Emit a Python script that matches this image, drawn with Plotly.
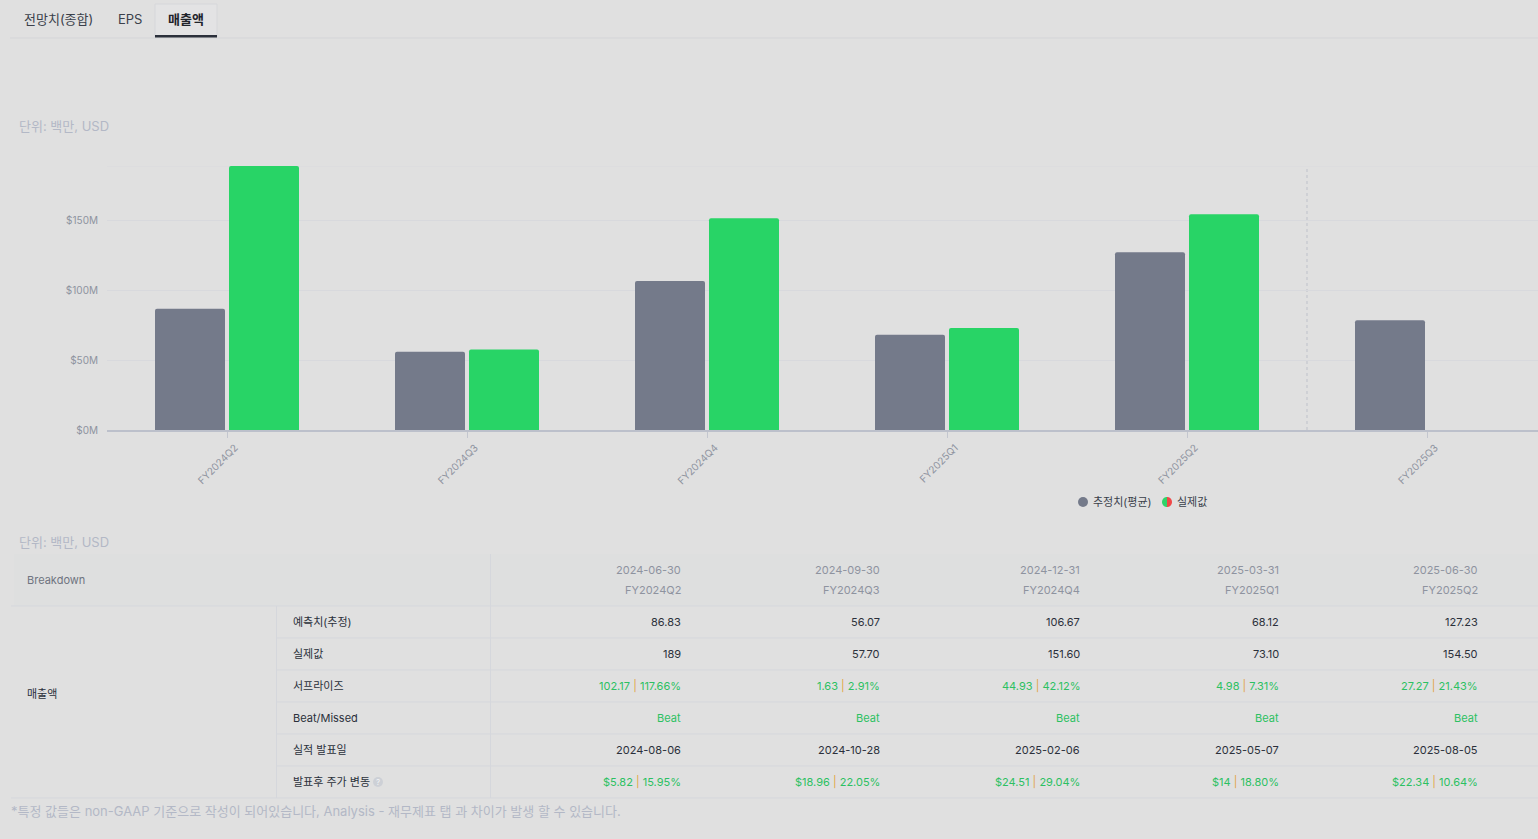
import numpy as np
import plotly.graph_objects as go

# ---------------- data ----------------
categories = ["FY2024Q2", "FY2024Q3", "FY2024Q4", "FY2025Q1", "FY2025Q2", "FY2025Q3"]
estimates = [86.83, 56.07, 106.67, 68.12, 127.23, 78.6]
actuals = [189, 57.70, 151.60, 73.10, 154.50, None]
y_ticks = [0, 50, 100, 150]
y_tick_labels = ["$0M", "$50M", "$100M", "$150M"]

tabs = ["전망치(종합)", "EPS", "매출액"]
legend_labels = ["추정치(평균)", "실제값"]

tbl_dates = ["2024-06-30", "2024-09-30", "2024-12-31", "2025-03-31", "2025-06-30"]
tbl_periods = ["FY2024Q2", "FY2024Q3", "FY2024Q4", "FY2025Q1", "FY2025Q2"]
row_labels = ["예측치(추정)", "실제값", "서프라이즈", "Beat/Missed", "실적 발표일", "발표후 주가 변동"]
est_text = ["86.83", "56.07", "106.67", "68.12", "127.23"]
act_text = ["189", "57.70", "151.60", "73.10", "154.50"]
surprise_abs = ["102.17", "1.63", "44.93", "4.98", "27.27"]
surprise_pct = ["117.66%", "2.91%", "42.12%", "7.31%", "21.43%"]
beat_missed = ["Beat", "Beat", "Beat", "Beat", "Beat"]
report_dates = ["2024-08-06", "2024-10-28", "2025-02-06", "2025-05-07", "2025-08-05"]
price_abs = ["$5.82", "$18.96", "$24.51", "$14", "$22.34"]
price_pct = ["15.95%", "22.05%", "29.04%", "18.80%", "10.64%"]

unit_label = "단위: 백만, USD"
breakdown_label = "Breakdown"
group_label = "매출액"
footnote = "*특정 값들은 non-GAAP 기준으로 작성이 되어있습니다, Analysis - 재무제표 탭 과 차이가 발생 할 수 있습니다."

# ---------------- layout constants ----------------
W, H = 1538, 839
L, T, PB = 107, 166, 430  # plot left, top, bottom in px
PW, PH = W - L, PB - T
BG = "#e0e0e0"
FONT = "Inter, 'Noto Sans CJK KR', sans-serif"
GRAY_BAR = "#747a8a"
GREEN_BAR = "#28d466"
TXT_DARK = "#2b303b"
TXT_GRAY = "#8e939f"
TXT_LIGHT = "#b3b8c6"
GREEN_TXT = "#2cc062"
SEP_ORANGE = "#e0a545"
LINE_C = "#d5d7dc"


def px(x):
    return (x - L) / PW


def py(y):
    return (PB - y) / PH


fig = go.Figure()

bw = 70 / 240
fig.add_trace(go.Bar(
    x=categories, y=estimates, name=legend_labels[0],
    marker=dict(color=GRAY_BAR, line=dict(width=0)),
    width=bw, offset=-72 / 240, hoverinfo="x+y",
))
fig.add_trace(go.Bar(
    x=categories, y=actuals, name=legend_labels[1],
    marker=dict(color=GREEN_BAR, line=dict(width=0)),
    width=bw, offset=2 / 240, hoverinfo="x+y",
))

shapes = []
annotations = []

# top boundary line of plot
shapes.append(dict(type="line", xref="paper", yref="y", x0=0, x1=1, y0=189, y1=189,
                   line=dict(color="#d9d9dd", width=1), layer="below"))
# forecast divider
shapes.append(dict(type="line", xref="x", yref="y", x0=4.5, x1=4.5, y0=0, y1=189,
                   line=dict(color="#c3c6ce", width=1.2, dash="dot"), layer="below"))

# ---------------- tabs ----------------
shapes.append(dict(type="line", xref="paper", yref="paper", x0=px(10), x1=px(W), y0=py(38), y1=py(38),
                   line=dict(color="#d4d5d8", width=1)))
shapes.append(dict(type="rect", xref="paper", yref="paper", x0=px(155), x1=px(217), y0=py(4), y1=py(37),
                   fillcolor="#e3e3e4", line=dict(color="#d6d7da", width=1), layer="below"))
shapes.append(dict(type="rect", xref="paper", yref="paper", x0=px(155), x1=px(217), y0=py(35), y1=py(37.5),
                   fillcolor="#2b303b", line=dict(width=0)))
for name, cx in zip(tabs, [58, 130, 186]):
    active = name == tabs[2]
    annotations.append(dict(
        text=f"<b>{name}</b>" if active else name, x=px(cx), y=py(19), xref="paper", yref="paper",
        xanchor="center", yanchor="middle", showarrow=False,
        font=dict(size=13, color="#1f232b" if active else "#3b404b", family=FONT)))

# ---------------- unit labels ----------------
for yy in [126, 542]:
    annotations.append(dict(text=unit_label, x=px(17), y=py(yy), xref="paper", yref="paper",
                            xanchor="left", yanchor="middle", showarrow=False,
                            font=dict(size=13, color=TXT_LIGHT, family=FONT)))

# ---------------- legend ----------------
lg_y = py(502)
shapes.append(dict(type="circle", xref="paper", yref="paper", xsizemode="pixel", ysizemode="pixel",
                   xanchor=px(1083), yanchor=lg_y, x0=-5, x1=5, y0=-5, y1=5,
                   fillcolor=GRAY_BAR, line=dict(width=0)))
ang_l = np.linspace(np.pi / 2, 3 * np.pi / 2, 20)
ang_r = np.linspace(-np.pi / 2, np.pi / 2, 20)


def half_path(angs):
    pts = " L ".join(f"{5*np.cos(a):.2f},{5*np.sin(a):.2f}" for a in angs)
    return f"M {pts} Z"


shapes.append(dict(type="path", xref="paper", yref="paper", xsizemode="pixel", ysizemode="pixel",
                   xanchor=px(1167), yanchor=lg_y, path=half_path(ang_l),
                   fillcolor="#2fd46a", line=dict(width=0)))
shapes.append(dict(type="path", xref="paper", yref="paper", xsizemode="pixel", ysizemode="pixel",
                   xanchor=px(1167), yanchor=lg_y, path=half_path(ang_r),
                   fillcolor="#f04848", line=dict(width=0)))
annotations.append(dict(text=legend_labels[0], x=px(1091), y=lg_y, xref="paper", yref="paper",
                        xanchor="left", yanchor="middle", showarrow=False,
                        font=dict(size=11, color="#3b404b", family=FONT)))
annotations.append(dict(text=legend_labels[1], x=px(1175), y=lg_y, xref="paper", yref="paper",
                        xanchor="left", yanchor="middle", showarrow=False,
                        font=dict(size=11, color="#3b404b", family=FONT)))

# ---------------- table ----------------
col_right = [681, 880, 1080, 1279, 1478]
hdr_top, hdr_bot = 554, 606
row_h = 32
row_tops = [hdr_bot + i * row_h for i in range(len(row_labels) + 1)]

shapes.append(dict(type="rect", xref="paper", yref="paper", x0=px(14), x1=px(W), y0=py(hdr_top), y1=py(hdr_bot),
                   fillcolor="#dedfdf", line=dict(width=0), layer="below"))
shapes.append(dict(type="line", xref="paper", yref="paper", x0=px(11), x1=px(W), y0=py(hdr_bot), y1=py(hdr_bot),
                   line=dict(color=LINE_C, width=1)))
for yy in row_tops[1:-1]:
    shapes.append(dict(type="line", xref="paper", yref="paper", x0=px(276), x1=px(W), y0=py(yy), y1=py(yy),
                       line=dict(color=LINE_C, width=1)))
shapes.append(dict(type="line", xref="paper", yref="paper", x0=px(11), x1=px(W), y0=py(row_tops[-1]),
                   y1=py(row_tops[-1]), line=dict(color=LINE_C, width=1)))
shapes.append(dict(type="line", xref="paper", yref="paper", x0=px(276.5), x1=px(276.5), y0=py(hdr_bot),
                   y1=py(row_tops[-1]), line=dict(color=LINE_C, width=1)))
shapes.append(dict(type="line", xref="paper", yref="paper", x0=px(490.5), x1=px(490.5), y0=py(hdr_top),
                   y1=py(row_tops[-1]), line=dict(color=LINE_C, width=1)))

annotations.append(dict(text=breakdown_label, x=px(25), y=py(580), xref="paper", yref="paper",
                        xanchor="left", yanchor="middle", showarrow=False,
                        font=dict(size=11, color="#6f7480", family=FONT)))
annotations.append(dict(text=group_label, x=px(25), y=py(694), xref="paper", yref="paper",
                        xanchor="left", yanchor="middle", showarrow=False,
                        font=dict(size=11, color=TXT_DARK, family=FONT)))

for xr, d, p in zip(col_right, tbl_dates, tbl_periods):
    annotations.append(dict(text=d, x=px(xr + 2), y=py(570), xref="paper", yref="paper",
                            xanchor="right", yanchor="middle", showarrow=False,
                            font=dict(size=11, color=TXT_GRAY, family=FONT)))
    annotations.append(dict(text=p, x=px(xr + 2), y=py(590), xref="paper", yref="paper",
                            xanchor="right", yanchor="middle", showarrow=False,
                            font=dict(size=11, color=TXT_GRAY, family=FONT)))

sep = f"<span style='color:{SEP_ORANGE}'>|</span>"
row_values = [
    (est_text, TXT_DARK),
    (act_text, TXT_DARK),
    ([f"{a} {sep} {b}" for a, b in zip(surprise_abs, surprise_pct)], GREEN_TXT),
    (beat_missed, GREEN_TXT),
    (report_dates, TXT_DARK),
    ([f"{a} {sep} {b}" for a, b in zip(price_abs, price_pct)], GREEN_TXT),
]
for i, (lab, (vals, colr)) in enumerate(zip(row_labels, row_values)):
    yc = py(row_tops[i] + row_h / 2)
    annotations.append(dict(text=lab, x=px(291), y=yc, xref="paper", yref="paper",
                            xanchor="left", yanchor="middle", showarrow=False,
                            font=dict(size=11, color=TXT_DARK, family=FONT)))
    for xr, v in zip(col_right, vals):
        annotations.append(dict(text=v, x=px(xr + 2), y=yc, xref="paper", yref="paper",
                                xanchor="right", yanchor="middle", showarrow=False,
                                font=dict(size=11, color=colr, family=FONT)))

# question icon
q_y = py(row_tops[5] + row_h / 2)
shapes.append(dict(type="circle", xref="paper", yref="paper", xsizemode="pixel", ysizemode="pixel",
                   xanchor=px(378), yanchor=q_y, x0=-5, x1=5, y0=-5, y1=5,
                   fillcolor="#cdd0d6", line=dict(width=0)))
annotations.append(dict(text="?", x=px(378), y=q_y, xref="paper", yref="paper",
                        xanchor="center", yanchor="middle", showarrow=False,
                        font=dict(size=8, color="#f2f3f5", family=FONT)))

annotations.append(dict(text=footnote, x=px(9), y=py(811), xref="paper", yref="paper",
                        xanchor="left", yanchor="middle", showarrow=False,
                        font=dict(size=13, color=TXT_LIGHT, family=FONT)))

fig.update_layout(
    width=W, height=H,
    margin=dict(l=L, r=0, t=T, b=H - PB, pad=0),
    paper_bgcolor=BG, plot_bgcolor=BG,
    showlegend=False,
    barmode="overlay",
    barcornerradius=2,
    font=dict(family=FONT),
    shapes=shapes,
    annotations=annotations,
    xaxis=dict(
        type="category", categoryorder="array", categoryarray=categories,
        range=[-0.5, (W - 227) / 240],
        showgrid=False, zeroline=False,
        showline=True, linecolor="#bcc0cb", linewidth=2,
        ticks="outside", ticklen=6, tickcolor="#c3c6cf", tickwidth=1,
        tickangle=-45, tickfont=dict(size=10, color=TXT_GRAY, family=FONT),
        ticklabelshift=8, ticklabelstandoff=0,
        fixedrange=True,
    ),
    yaxis=dict(
        range=[0, 189], tickvals=y_ticks, ticktext=y_tick_labels,
        showgrid=True, gridcolor="#d8d9dd", gridwidth=1,
        zeroline=False, showline=False, ticks="",
        ticklabelstandoff=8,
        tickfont=dict(size=10, color=TXT_GRAY, family=FONT),
        fixedrange=True,
    ),
)

fig.write_html("out.html", config={"displayModeBar": False})
